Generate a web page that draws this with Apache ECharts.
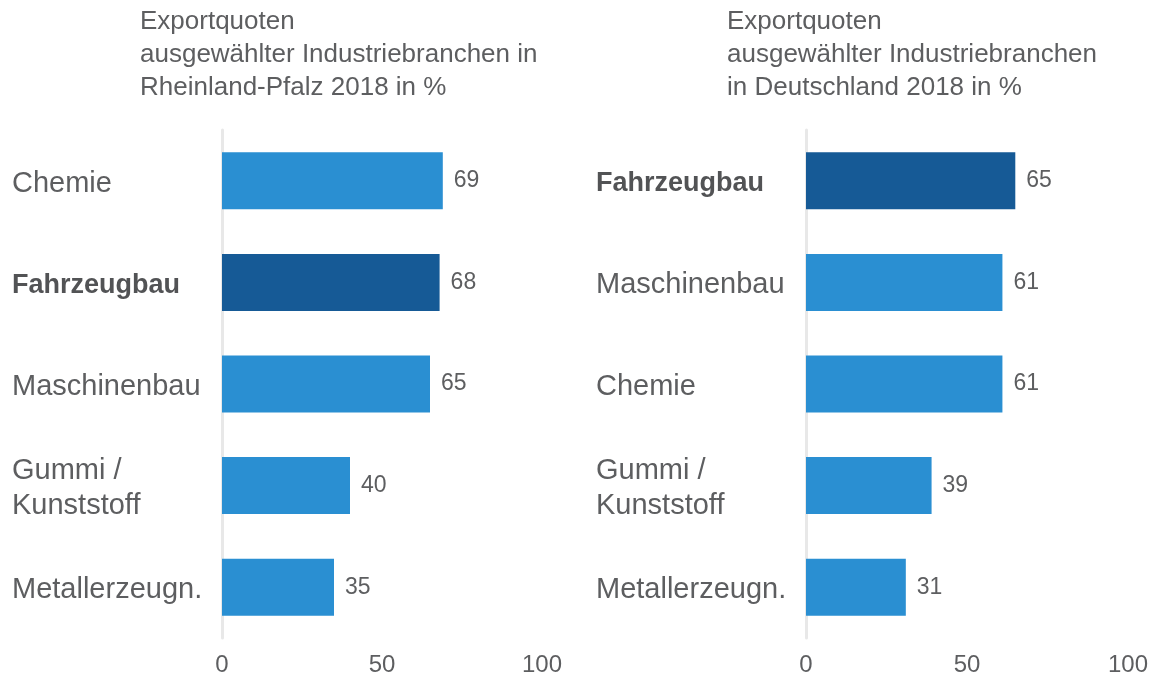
<!DOCTYPE html>
<html>
<head>
<meta charset="utf-8">
<script src="https://cdn.jsdelivr.net/npm/echarts@6/dist/echarts.min.js"></script>
<style>
  html, body { margin: 0; padding: 0; background: #fff; }
  #chart { width: 1154px; height: 678px; }
</style>
</head>
<body>
<div id="chart"></div>
<script>
// Rheinland-Pfalz
const categoriesRLP = ['Chemie', 'Fahrzeugbau', 'Maschinenbau', 'Gummi /\nKunststoff', 'Metallerzeugn.']
const valuesRLP = [69, 68, 65, 40, 35]
// Deutschland
const categoriesDE = ['Fahrzeugbau', 'Maschinenbau', 'Chemie', 'Gummi /\nKunststoff', 'Metallerzeugn.']
const valuesDE = [65, 61, 61, 39, 31]
const xTicks = [0, 50, 100]
const highlight = 'Fahrzeugbau'

const titleRLP = 'Exportquoten\nausgewählter Industriebranchen in\nRheinland-Pfalz 2018 in %'
const titleDE = 'Exportquoten\nausgewählter Industriebranchen\nin Deutschland 2018 in %'

const FONT = '"Liberation Sans", Arial, sans-serif'
const TEXT = '#5d5e60'
const BAR = '#2a8fd2'
const BAR_DARK = '#165a96'

const barData = (cats, vals) => vals.map((v, i) => ({
    value: v,
    itemStyle: { color: cats[i] === highlight ? BAR_DARK : BAR }
}))

const yAxisFor = (gridIndex, cats) => ({
    type: 'category',
    gridIndex,
    data: cats,
    inverse: true,
    axisTick: { show: false },
    axisLine: { show: true, lineStyle: { color: '#e8e8e8', width: 3 } },
    axisLabel: {
        align: 'left',
        margin: 210,
        padding: [6, 0, 0, 0],
        fontFamily: FONT,
        fontSize: 29,
        lineHeight: 35,
        color: TEXT,
        formatter: (v) => v === highlight ? '{b|' + v + '}' : v,
        rich: {
            b: { fontFamily: FONT, fontSize: 27, fontWeight: 'bold', color: '#525355' }
        }
    }
})

const xAxisFor = (gridIndex) => ({
    type: 'value',
    gridIndex,
    min: xTicks[0],
    max: xTicks[xTicks.length - 1],
    interval: xTicks[1] - xTicks[0],
    splitLine: { show: false },
    axisLine: { show: false },
    axisTick: { show: false },
    axisLabel: { fontFamily: FONT, fontSize: 24, color: TEXT, margin: 15 }
})

const seriesFor = (idx, cats, vals) => ({
    type: 'bar',
    xAxisIndex: idx,
    yAxisIndex: idx,
    barWidth: 57,
    data: barData(cats, vals),
    label: {
        show: true,
        position: 'right',
        distance: 11,
        fontFamily: FONT,
        fontSize: 23,
        color: TEXT
    }
})

const titleStyle = { fontFamily: FONT, fontSize: 26, fontWeight: 'normal', color: TEXT, lineHeight: 33 }

const myChart = echarts.init(document.getElementById('chart'))
myChart.setOption({
    animation: false,
    backgroundColor: '#fff',
    title: [
        { text: titleRLP, left: 140, top: 5, padding: 0, textStyle: titleStyle },
        { text: titleDE, left: 727, top: 5, padding: 0, textStyle: titleStyle }
    ],
    grid: [
        { left: 222, width: 320, top: 130, height: 508 },
        { left: 806, width: 322, top: 130, height: 508 }
    ],
    xAxis: [xAxisFor(0), xAxisFor(1)],
    yAxis: [yAxisFor(0, categoriesRLP), yAxisFor(1, categoriesDE)],
    series: [
        seriesFor(0, categoriesRLP, valuesRLP),
        seriesFor(1, categoriesDE, valuesDE)
    ]
})
</script>
</body>
</html>
